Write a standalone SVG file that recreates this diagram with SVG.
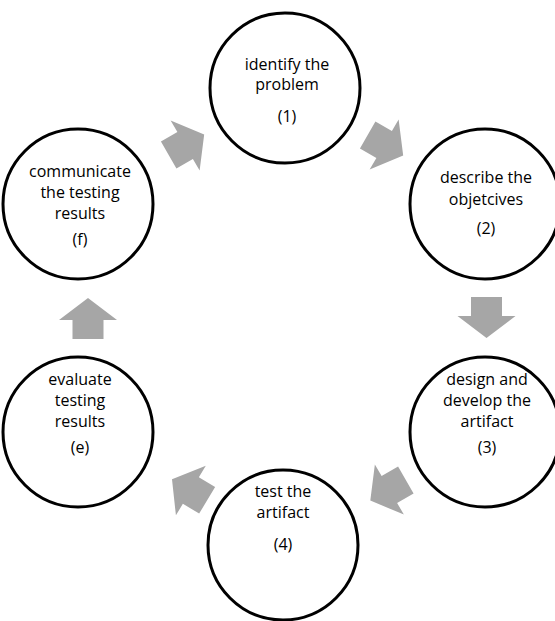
<svg xmlns="http://www.w3.org/2000/svg" width="555" height="621" viewBox="0 0 555 621">
<defs>
<style>
.node circle{fill:#fff;stroke:#000;stroke-width:3}
.node text{font-family:"Open Sans","Liberation Sans",sans-serif;font-size:16px;fill:#000;text-anchor:middle}
.arr{fill:#A6A6A6}
</style>
<polygon id="blk" points="-20,-15.5 -1,-15.5 -1,-29 21,0 -1,29 -1,15.5 -20,15.5"/>
</defs>
<rect width="555" height="621" fill="#fff"/>
<g id="connectors">
<use href="#blk" class="arr" transform="translate(186,145) rotate(-30)"/>
<use href="#blk" class="arr" transform="translate(385,145) rotate(30)"/>
<use href="#blk" class="arr" transform="translate(486.5,317) rotate(90)"/>
<use href="#blk" class="arr" transform="translate(388.5,490) rotate(150)"/>
<use href="#blk" class="arr" transform="translate(190,490) rotate(-149)"/>
<use href="#blk" class="arr" transform="translate(88,319) rotate(-90)"/>
</g>
<g id="n1" class="node">
<circle cx="285" cy="88" r="75"/>
<text x="287" y="70">identify the</text>
<text x="287" y="90">problem</text>
<text x="287" y="122">(1)</text>
</g>
<g id="n2" class="node">
<circle cx="485" cy="204" r="75"/>
<text x="486" y="183">describe the</text>
<text x="486" y="205">objetcives</text>
<text x="486" y="234">(2)</text>
</g>
<g id="n3" class="node">
<circle cx="485" cy="432" r="75"/>
<text x="487" y="385">design and</text>
<text x="487" y="406">develop the</text>
<text x="487" y="427">artifact</text>
<text x="487" y="453">(3)</text>
</g>
<g id="n4" class="node">
<circle cx="283" cy="545" r="75"/>
<text x="283" y="497">test the</text>
<text x="283" y="518">artifact</text>
<text x="283" y="550">(4)</text>
</g>
<g id="ne" class="node">
<circle cx="78" cy="432" r="75"/>
<text x="80" y="385">evaluate</text>
<text x="80" y="406">testing</text>
<text x="80" y="427">results</text>
<text x="80" y="453">(e)</text>
</g>
<g id="nf" class="node">
<circle cx="78" cy="204" r="75"/>
<text x="80" y="177">communicate</text>
<text x="80" y="198">the testing</text>
<text x="80" y="219">results</text>
<text x="80" y="245">(f)</text>
</g>
</svg>
